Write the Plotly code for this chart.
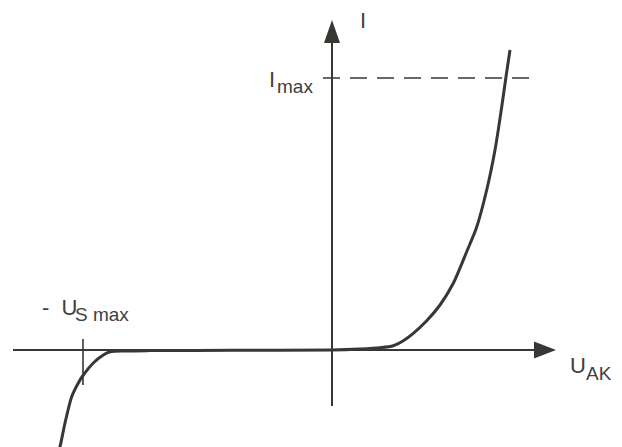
import plotly.graph_objects as go

# ---- data (U in arbitrary units, I in arbitrary units) ----
U_curve = [-27.5, -27.2, -26.7, -26.03, -25.37, -24.87, -23.87, -22.87, -22.2, -20.5, -18.2,
           -10.0, 0.0, 2.8, 4.8, 6.13, 7.13, 8.13, 9.47, 10.8, 12.13, 13.47,
           14.47, 15.47, 16.3, 16.97, 17.4, 17.8]
I_curve = [-10.6, -9.67, -7.3, -4.67, -3.3, -2.5, -1.3, -0.5, -0.17, -0.09, -0.06,
           -0.03, 0.0, 0.1, 0.23, 0.43, 0.93, 1.67, 2.93, 4.5, 6.67, 9.83,
           12.3, 16.0, 20.0, 24.3, 27.33, 30.0]

I_MAX = 27.2
U_S_MAX = -24.9

# ---- geometry helpers (1 unit = 10 px, origin at page pixel (332, 350)) ----
W, H = 622, 447
PAGE_OFF = 8           # default body margin of the html page
OX, OY, S = 332, 350, 10.0
def ux(px):
    return (px - OX) / S
def iy(py):
    return (OY - py) / S

INK = "#373833"
TXT = "#404040"

fig = go.Figure()
fig.add_trace(go.Scatter(x=U_curve, y=I_curve, mode="lines",
                         line=dict(color=INK, width=3, shape="spline", smoothing=0.8),
                         hoverinfo="skip", showlegend=False))

shapes = []
shapes.append(dict(type="line", x0=ux(13), x1=ux(537), y0=0, y1=0,
                   line=dict(color=INK, width=2)))
shapes.append(dict(type="path",
                   path=f"M {ux(534)},{iy(341.5)} L {ux(556)},{iy(350)} L {ux(534)},{iy(358.5)} Z",
                   fillcolor=INK, line=dict(color=INK, width=0)))
shapes.append(dict(type="line", x0=0, x1=0, y0=iy(406), y1=iy(42),
                   line=dict(color=INK, width=2)))
shapes.append(dict(type="path",
                   path=f"M {ux(324)},{iy(43)} L {ux(332)},{iy(20)} L {ux(340)},{iy(43)} Z",
                   fillcolor=INK, line=dict(color=INK, width=0)))
shapes.append(dict(type="line", x0=ux(323), x1=ux(538), y0=I_MAX, y1=I_MAX,
                   line=dict(color=INK, width=1.6, dash="17px,10px")))
shapes.append(dict(type="line", x0=U_S_MAX, x1=U_S_MAX, y0=iy(339), y1=iy(385),
                   line=dict(color=INK, width=1.6)))

FONT = "Liberation Sans, Arial, sans-serif"
def label(text, px, py, size):
    return dict(text=text, x=ux(px), y=iy(py), xref="x", yref="y", showarrow=False,
                xanchor="left", yanchor="middle", font=dict(family=FONT, size=size, color=TXT))

annotations = [
    label("I", 358, 20, 22),
    label("I", 267, 79, 22),
    label("max", 275, 86, 19),
    label("-  U", 40, 307, 22),
    label("S max", 73, 314, 19),
    label("U", 568, 365, 22),
    label("AK", 584, 373, 19),
]

fig.update_layout(
    width=W, height=H, margin=dict(l=0, r=0, t=0, b=0),
    paper_bgcolor="white", plot_bgcolor="white",
    xaxis=dict(range=[ux(PAGE_OFF), ux(PAGE_OFF + W)], visible=False, fixedrange=True),
    yaxis=dict(range=[iy(PAGE_OFF + H), iy(PAGE_OFF)], visible=False, fixedrange=True),
    shapes=shapes, annotations=annotations,
)
fig.write_html("out.html")
